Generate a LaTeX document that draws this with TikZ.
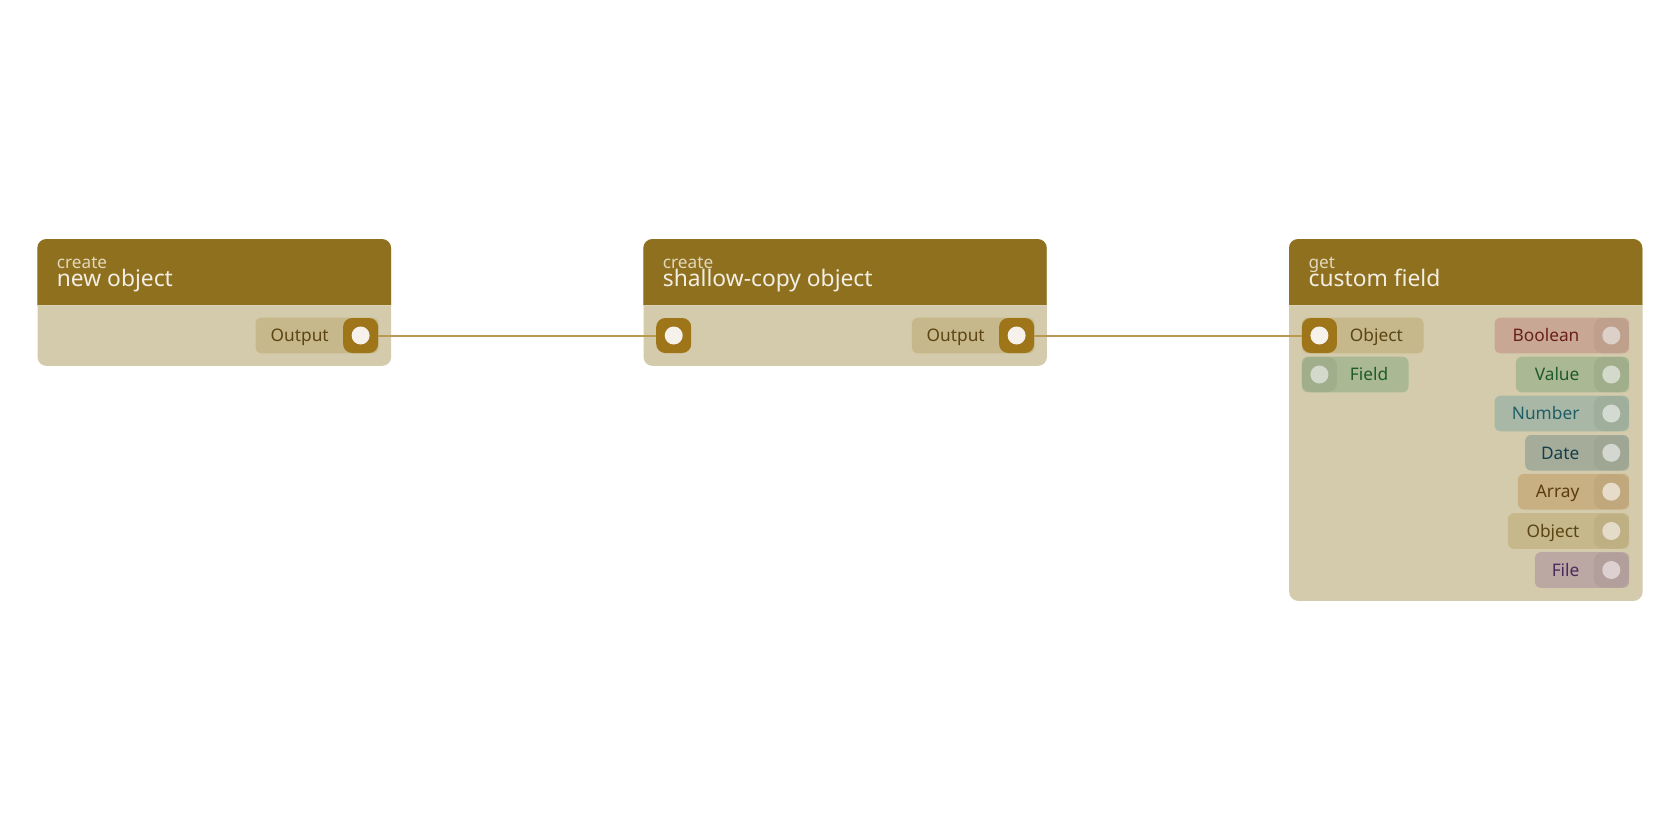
\documentclass[tikz,border=0pt]{standalone}
\usepackage{fontspec}
\setmainfont{Noto Sans}
\definecolor{hdrc}{HTML}{8F701E}
\definecolor{bodyc}{HTML}{D4CBAC}
\definecolor{pillc}{HTML}{C6B88A}
\definecolor{goldport}{HTML}{9E7519}
\definecolor{dotc}{HTML}{F6F1EA}
\definecolor{brownt}{HTML}{5C4413}
\definecolor{wirec}{HTML}{BA9A52}
\definecolor{titlec}{HTML}{F2EEE4}
\definecolor{subc}{HTML}{E2D8BE}
% typed colours
\definecolor{boolp}{HTML}{C8A894}\definecolor{boolq}{HTML}{BEA08D}\definecolor{boold}{HTML}{DDD0C9}\definecolor{boolt}{HTML}{6A1E1E}
\definecolor{valp}{HTML}{AAB994}\definecolor{valq}{HTML}{A0AE8C}\definecolor{vald}{HTML}{D4DACB}\definecolor{valt}{HTML}{1E5A2C}
\definecolor{nump}{HTML}{A9B8A6}\definecolor{numq}{HTML}{A0AE9C}\definecolor{numd}{HTML}{D3DAD2}\definecolor{numt}{HTML}{1F5E66}
\definecolor{datp}{HTML}{A5AC9A}\definecolor{datq}{HTML}{9FA694}\definecolor{datd}{HTML}{D3D7D0}\definecolor{datt}{HTML}{143E4A}
\definecolor{arrp}{HTML}{C8B082}\definecolor{arrq}{HTML}{C0A87C}\definecolor{arrd}{HTML}{E6DCC9}\definecolor{arrt}{HTML}{5A3C10}
\definecolor{objp}{HTML}{C6B88A}\definecolor{objq}{HTML}{BFB084}\definecolor{objd}{HTML}{E4DCC8}\definecolor{objt}{HTML}{5C4413}
\definecolor{filp}{HTML}{BBA8A3}\definecolor{filq}{HTML}{B29F9B}\definecolor{fild}{HTML}{DCD1D0}\definecolor{filt}{HTML}{4A2A5E}
\tikzset{
  bodybox/.style={fill=bodyc, rounded corners=9pt, inner sep=0pt},
  pill/.style={rounded corners=6pt, minimum height=35.6pt, inner sep=0pt},
  portbox/.style={rounded corners=9pt, minimum width=35pt, minimum height=35pt, inner sep=0pt},
  dotbox/.style={circle, minimum size=18pt, inner sep=0pt},
  ptext/.style={font=\fontsize{17.3}{20}\selectfont, inner sep=0pt},
  subtext/.style={font=\fontsize{17.2}{19}\selectfont, inner sep=0pt, text=subc, anchor=base west},
  titletext/.style={font=\fontsize{22.8}{26}\selectfont, inner sep=0pt, text=titlec, anchor=base west},
  wire/.style={draw=wirec, line width=2pt},
}
% #1 name, #2 xleft, #3 xright, #4 yc, #5 pill, #6 port, #7 dot, #8 text colour, #9 label
\newcommand\outrow[9]{%
  \node[pill, fill=#5, minimum width={#3-#2}, anchor=west] (#1) at (#2,#4) {};
  \node[portbox, fill=#6, anchor=east] (#1p) at (#3,#4) {};
  \node[dotbox, fill=#7] (#1d) at (#1p.center) {};
  \node[ptext, text=#8, anchor=base east] (#1t) at ([xshift=-14pt,yshift=-6.2pt]#1p.west) {#9};
}
\newcommand\inrow[9]{%
  \node[pill, fill=#5, minimum width={#3-#2}, anchor=west] (#1) at (#2,#4) {};
  \node[portbox, fill=#6, anchor=west] (#1p) at (#2,#4) {};
  \node[dotbox, fill=#7] (#1d) at (#1p.center) {};
  \node[ptext, text=#8, anchor=base west] (#1t) at ([xshift=12.6pt,yshift=-6.2pt]#1p.east) {#9};
}
\newcommand\nodehead[6]{% #1 xl #2 xr #3 sub #4 title #5 subname #6 titlename
  \fill[hdrc] (#1,305) [rounded corners=9pt] -- (#1,239) -- (#2,239) [sharp corners] -- (#2,305) -- cycle;
  \draw[draw=bodyc!85!white, line width=1pt] (#1,305.5) -- (#2,305.5);
  \node[subtext] (#5) at (#1+19.4,268) {#3};
  \node[titletext] (#6) at (#1+19.4,286) {#4};
}
\begin{document}
\begin{tikzpicture}[x=1pt,y=-1pt]
\useasboundingbox[fill=white] (0,0) rectangle (1680,840);
% node 1
\node[bodybox, minimum width=353.7pt, minimum height=126.4pt, anchor=north west] (n1) at (37.3,239.3) {};
\nodehead{37.3}{391}{create}{new object}{n1s}{n1h}
\outrow{o1}{255.3}{378.3}{335.5}{pillc}{goldport}{dotc}{brownt}{Output}
% node 2
\node[bodybox, minimum width=403.4pt, minimum height=126.4pt, anchor=north west] (n2) at (643.3,239.3) {};
\nodehead{643.3}{1046.7}{create}{shallow-copy object}{n2s}{n2h}
\node[portbox, fill=goldport, anchor=west] (i2p) at (656,335.5) {};
\node[dotbox, fill=dotc] (i2d) at (i2p.center) {};
\outrow{o2}{911.7}{1034.3}{335.5}{pillc}{goldport}{dotc}{brownt}{Output}
% node 3
\node[bodybox, minimum width=353.3pt, minimum height=361.4pt, anchor=north west] (n3) at (1289,239.3) {};
\nodehead{1289}{1642.3}{get}{custom field}{n3s}{n3h}
\inrow{i3a}{1301.7}{1423.3}{335.5}{pillc}{goldport}{dotc}{brownt}{Object}
\inrow{i3b}{1301.7}{1408.3}{374.5}{valp}{valq}{vald}{valt}{Field}
\outrow{o3a}{1494.3}{1629}{335.5}{boolp}{boolq}{boold}{boolt}{Boolean}
\outrow{o3b}{1515.7}{1629}{374.5}{valp}{valq}{vald}{valt}{Value}
\outrow{o3c}{1494.3}{1629}{413.5}{nump}{numq}{numd}{numt}{Number}
\outrow{o3d}{1525}{1629}{452.8}{datp}{datq}{datd}{datt}{Date}
\outrow{o3e}{1517.7}{1629}{491.7}{arrp}{arrq}{arrd}{arrt}{Array}
\outrow{o3f}{1507.7}{1629}{531}{objp}{objq}{objd}{objt}{Object}
\outrow{o3g}{1534.7}{1629}{570}{filp}{filq}{fild}{filt}{File}
% wires
\draw[wire] (o1p.east) -- (i2p.west);
\draw[wire] (o2p.east) -- (i3ap.west);
\end{tikzpicture}
\end{document}
